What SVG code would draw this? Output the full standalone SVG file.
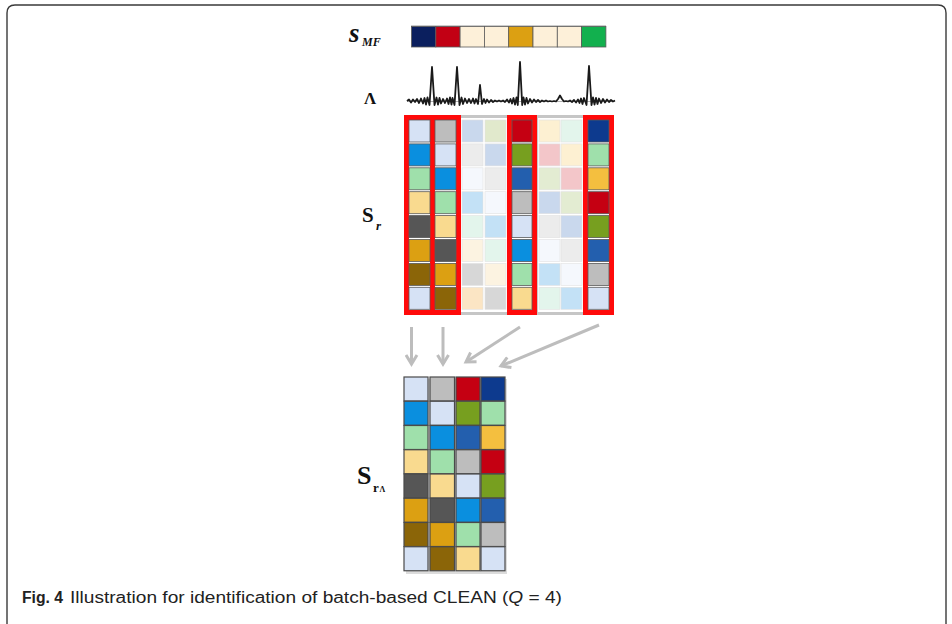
<svg xmlns="http://www.w3.org/2000/svg" width="952" height="624" viewBox="0 0 952 624">
<defs>
<style>
.lbl{font-family:"Liberation Serif","Times New Roman",serif;font-weight:bold;fill:#111}
.it{font-style:italic}
.sc{stroke:#5a5a5a;stroke-width:0.8}
.fc{stroke:#e2e2e2;stroke-width:0.6}
.bc{stroke:#4a4a4a;stroke-width:1.2}
.red{fill:none;stroke:#ff0a0a;stroke-width:5}
.gry{fill:none;stroke:#c6c6c6;stroke-width:3}
.arr{fill:none;stroke:#bdbdbd;stroke-width:3;marker-end:url(#ah)}
.cap{font-family:"Liberation Sans",Arial,sans-serif;font-size:16px;fill:#222}
</style>
<marker id="ah" markerUnits="userSpaceOnUse" markerWidth="14" markerHeight="14" refX="10" refY="6" orient="auto" viewBox="0 0 14 12">
<path d="M1,0.5 L10,6 L1,11.5" fill="none" stroke="#bdbdbd" stroke-width="3"/>
</marker>
</defs>
<rect x="0" y="0" width="952" height="624" fill="#fff"/>
<path d="M7,640 V13 Q7,5 15,5 H938 Q946,5 946,13 V640" fill="none" stroke="#3a3a3a" stroke-width="1.4"/>

<g id="s-mf">
<text class="lbl it" x="349" y="42" font-size="27">s</text>
<text class="lbl it" x="362" y="46" font-size="12">MF</text>
<rect x="411" y="25" width="195" height="3" fill="#999" opacity="0.5"/>
<g class="sc">
<rect x="411.5" y="26.5" width="24.3" height="20.5" fill="#0b1f5e"/>
<rect x="435.8" y="26.5" width="24.3" height="20.5" fill="#c20014"/>
<rect x="460.1" y="26.5" width="24.3" height="20.5" fill="#fdf0d9"/>
<rect x="484.4" y="26.5" width="24.3" height="20.5" fill="#fdf0d9"/>
<rect x="508.7" y="26.5" width="24.3" height="20.5" fill="#dca012"/>
<rect x="533" y="26.5" width="24.3" height="20.5" fill="#fdf0d9"/>
<rect x="557.3" y="26.5" width="24.3" height="20.5" fill="#fdf0d9"/>
<rect x="581.6" y="26.5" width="24.3" height="20.5" fill="#12b04e"/>
</g>
</g>

<g id="lambda">
<text class="lbl" x="364" y="104" font-size="17">Λ</text>
<line x1="407" y1="101.5" x2="615" y2="101.5" stroke="#b0b0b0" stroke-width="1"/>
<path fill="none" stroke="#1a1a1a" stroke-width="1.8" stroke-linejoin="round" d="M407,101 L409,99.5 L411,102.5 L413,99.5 L415,102 L417,99 L419,103 L421,98.5 L423,103.5 L424.5,98 L426,104.5 L427.5,97.5 L429.5,105 L432,67 L434.5,105 L436.5,97.5 L438,104.5 L439.5,98 L441,103.5 L443,99 L445,103 L447,98.5 L448.5,104 L450,97.5 L451.5,104.5 L452.5,98 L454.5,105 L457,67 L459.5,105 L461.5,97.5 L463,104 L465,98.5 L467,103 L469,99 L471,103 L473,98.5 L474.5,103.5 L476,99 L478,104 L480,85 L482,104 L484,99 L485.5,103 L487,99.5 L489,102.5 L491,100 L493,102 L495,100.5 L497,101.5 L499,100.5 L501,101.5 L503,100.5 L505,102 L507,99.5 L509,102.5 L510.5,99 L512,103.5 L513.5,98 L515,104.5 L516.5,97.5 L517.8,105 L520,62 L522.2,105 L523.5,97.5 L525,104.5 L526.5,98 L528,103.5 L530,99 L532,102.5 L534,99.5 L536,102 L538,100 L540,102 L542,100.5 L544,101.5 L546,100.5 L548,101.5 L550,101 L552,101.5 L554,101 L556,101.5 L558,99 L560,95.5 L562,99 L564,101.5 L566,101 L568,101.5 L570,100.5 L572,102 L574,100 L576,102.5 L578,99.5 L579.5,103 L581,98.5 L582.5,104 L584,98 L586.5,105 L589,66 L591.5,105 L593,97.5 L594.5,104.5 L596,98 L597.5,104 L599,98.5 L601,103 L603,99 L605,102.5 L607,99.5 L609,102 L611,100 L613,101.5 L615,100.5"/>
</g>

<g id="s-r">
<text class="lbl" x="362" y="222" font-size="21">S</text>
<text class="lbl it" x="376" y="230" font-size="13">r</text>
<rect class="gry" x="459.5" y="116.5" width="49" height="197"/>
<rect class="gry" x="536.5" y="116.5" width="48" height="197"/>
<rect class="red" x="406.5" y="117.5" width="26" height="195"/>
<rect class="red" x="432.5" y="117.5" width="26" height="195"/>
<rect class="red" x="509.5" y="117.5" width="25" height="195"/>
<rect class="red" x="585.5" y="117.5" width="26" height="195"/>
<g class="sc">
<rect x="409" y="120" width="21" height="22" fill="#d6e2f5"/>
<rect x="409" y="143.9" width="21" height="22" fill="#0a8fdf"/>
<rect x="409" y="167.8" width="21" height="22" fill="#9fe0ab"/>
<rect x="409" y="191.7" width="21" height="22" fill="#f9da8f"/>
<rect x="409" y="215.6" width="21" height="22" fill="#565656"/>
<rect x="409" y="239.5" width="21" height="22" fill="#dca012"/>
<rect x="409" y="263.4" width="21" height="22" fill="#8b6508"/>
<rect x="409" y="287.3" width="21" height="22" fill="#d6e2f5"/>
<rect x="435" y="120" width="21" height="22" fill="#bdbdbd"/>
<rect x="435" y="143.9" width="21" height="22" fill="#d6e2f5"/>
<rect x="435" y="167.8" width="21" height="22" fill="#0a8fdf"/>
<rect x="435" y="191.7" width="21" height="22" fill="#9fe0ab"/>
<rect x="435" y="215.6" width="21" height="22" fill="#f9da8f"/>
<rect x="435" y="239.5" width="21" height="22" fill="#565656"/>
<rect x="435" y="263.4" width="21" height="22" fill="#dca012"/>
<rect x="435" y="287.3" width="21" height="22" fill="#8b6508"/>
<rect x="512" y="120" width="20" height="22" fill="#c50012"/>
<rect x="512" y="143.9" width="20" height="22" fill="#779f1f"/>
<rect x="512" y="167.8" width="20" height="22" fill="#235fae"/>
<rect x="512" y="191.7" width="20" height="22" fill="#bdbdbd"/>
<rect x="512" y="215.6" width="20" height="22" fill="#d6e2f5"/>
<rect x="512" y="239.5" width="20" height="22" fill="#0a8fdf"/>
<rect x="512" y="263.4" width="20" height="22" fill="#9fe0ab"/>
<rect x="512" y="287.3" width="20" height="22" fill="#f9da8f"/>
<rect x="588" y="120" width="21" height="22" fill="#0d3a8e"/>
<rect x="588" y="143.9" width="21" height="22" fill="#9fe0ab"/>
<rect x="588" y="167.8" width="21" height="22" fill="#f4bf3f"/>
<rect x="588" y="191.7" width="21" height="22" fill="#c50012"/>
<rect x="588" y="215.6" width="21" height="22" fill="#779f1f"/>
<rect x="588" y="239.5" width="21" height="22" fill="#235fae"/>
<rect x="588" y="263.4" width="21" height="22" fill="#bdbdbd"/>
<rect x="588" y="287.3" width="21" height="22" fill="#d6e2f5"/>
</g>
<g class="fc">
<rect x="462" y="120" width="21" height="22" fill="#c9d8ed"/>
<rect x="462" y="143.9" width="21" height="22" fill="#ececec"/>
<rect x="462" y="167.8" width="21" height="22" fill="#f5f8fd"/>
<rect x="462" y="191.7" width="21" height="22" fill="#c3e1f6"/>
<rect x="462" y="215.6" width="21" height="22" fill="#e3f5ec"/>
<rect x="462" y="239.5" width="21" height="22" fill="#fcf3e1"/>
<rect x="462" y="263.4" width="21" height="22" fill="#d7d7d7"/>
<rect x="462" y="287.3" width="21" height="22" fill="#fbe5c4"/>
<rect x="485" y="120" width="21" height="22" fill="#e1e9cc"/>
<rect x="485" y="143.9" width="21" height="22" fill="#c9d8ed"/>
<rect x="485" y="167.8" width="21" height="22" fill="#ececec"/>
<rect x="485" y="191.7" width="21" height="22" fill="#f5f8fd"/>
<rect x="485" y="215.6" width="21" height="22" fill="#c3e1f6"/>
<rect x="485" y="239.5" width="21" height="22" fill="#e3f5ec"/>
<rect x="485" y="263.4" width="21" height="22" fill="#fcf3e1"/>
<rect x="485" y="287.3" width="21" height="22" fill="#d7d7d7"/>
<rect x="539" y="120" width="21" height="22" fill="#fdf0d2"/>
<rect x="539" y="143.9" width="21" height="22" fill="#f3c6c9"/>
<rect x="539" y="167.8" width="21" height="22" fill="#e3ecd2"/>
<rect x="539" y="191.7" width="21" height="22" fill="#c9d8ed"/>
<rect x="539" y="215.6" width="21" height="22" fill="#ececec"/>
<rect x="539" y="239.5" width="21" height="22" fill="#f5f8fd"/>
<rect x="539" y="263.4" width="21" height="22" fill="#c3e1f6"/>
<rect x="539" y="287.3" width="21" height="22" fill="#e3f5ec"/>
<rect x="561" y="120" width="21" height="22" fill="#e3f5ec"/>
<rect x="561" y="143.9" width="21" height="22" fill="#fdf0d2"/>
<rect x="561" y="167.8" width="21" height="22" fill="#f3c6c9"/>
<rect x="561" y="191.7" width="21" height="22" fill="#e3ecd2"/>
<rect x="561" y="215.6" width="21" height="22" fill="#c9d8ed"/>
<rect x="561" y="239.5" width="21" height="22" fill="#ececec"/>
<rect x="561" y="263.4" width="21" height="22" fill="#f5f8fd"/>
<rect x="561" y="287.3" width="21" height="22" fill="#c3e1f6"/>
</g>
</g>

<g id="connectors">
<path class="arr" d="M411.5,327 L411.5,364"/>
<path class="arr" d="M443,327 L443,364"/>
<path class="arr" d="M520,327 L466,362"/>
<path class="arr" d="M599,325 L501,366"/>
</g>

<g id="s-r-lambda">
<text class="lbl" x="357" y="484" font-size="26">S</text>
<text class="lbl" x="373" y="492" font-size="13">r</text>
<text class="lbl" x="379.5" y="492" font-size="8">Λ</text>
<rect x="406" y="379" width="101" height="195" fill="#9a9a9a" opacity="0.35"/>
<g class="bc">
<rect x="404" y="377" width="24" height="24" fill="#d6e2f5"/>
<rect x="404" y="401.25" width="24" height="24" fill="#0a8fdf"/>
<rect x="404" y="425.5" width="24" height="24" fill="#9fe0ab"/>
<rect x="404" y="449.75" width="24" height="24" fill="#f9da8f"/>
<rect x="404" y="474" width="24" height="24" fill="#565656"/>
<rect x="404" y="498.25" width="24" height="24" fill="#dca012"/>
<rect x="404" y="522.5" width="24" height="24" fill="#8b6508"/>
<rect x="404" y="546.75" width="24" height="24" fill="#d6e2f5"/>
<rect x="430" y="377" width="24.5" height="24" fill="#bdbdbd"/>
<rect x="430" y="401.25" width="24.5" height="24" fill="#d6e2f5"/>
<rect x="430" y="425.5" width="24.5" height="24" fill="#0a8fdf"/>
<rect x="430" y="449.75" width="24.5" height="24" fill="#9fe0ab"/>
<rect x="430" y="474" width="24.5" height="24" fill="#f9da8f"/>
<rect x="430" y="498.25" width="24.5" height="24" fill="#565656"/>
<rect x="430" y="522.5" width="24.5" height="24" fill="#dca012"/>
<rect x="430" y="546.75" width="24.5" height="24" fill="#8b6508"/>
<rect x="456" y="377" width="24" height="24" fill="#c50012"/>
<rect x="456" y="401.25" width="24" height="24" fill="#779f1f"/>
<rect x="456" y="425.5" width="24" height="24" fill="#235fae"/>
<rect x="456" y="449.75" width="24" height="24" fill="#bdbdbd"/>
<rect x="456" y="474" width="24" height="24" fill="#d6e2f5"/>
<rect x="456" y="498.25" width="24" height="24" fill="#0a8fdf"/>
<rect x="456" y="522.5" width="24" height="24" fill="#9fe0ab"/>
<rect x="456" y="546.75" width="24" height="24" fill="#f9da8f"/>
<rect x="481" y="377" width="24" height="24" fill="#0d3a8e"/>
<rect x="481" y="401.25" width="24" height="24" fill="#9fe0ab"/>
<rect x="481" y="425.5" width="24" height="24" fill="#f4bf3f"/>
<rect x="481" y="449.75" width="24" height="24" fill="#c50012"/>
<rect x="481" y="474" width="24" height="24" fill="#779f1f"/>
<rect x="481" y="498.25" width="24" height="24" fill="#235fae"/>
<rect x="481" y="522.5" width="24" height="24" fill="#bdbdbd"/>
<rect x="481" y="546.75" width="24" height="24" fill="#d6e2f5"/>
</g>
</g>

<g id="caption">
<text class="cap" x="22" y="603" font-weight="bold" textLength="41" lengthAdjust="spacingAndGlyphs">Fig. 4</text>
<text class="cap" x="70" y="603" textLength="492" lengthAdjust="spacingAndGlyphs">Illustration for identification of batch-based CLEAN (<tspan font-style="italic">Q</tspan> = 4)</text>
</g>
</svg>
